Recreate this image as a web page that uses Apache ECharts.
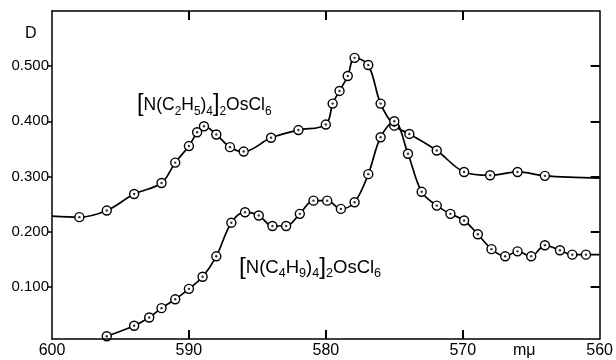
<!DOCTYPE html>
<html>
<head>
<meta charset="utf-8">
<script src="https://cdn.jsdelivr.net/npm/echarts@6/dist/echarts.min.js"></script>
<style>
  html, body {margin: 0; padding: 0; background: #fff;}
  #main {width: 616px; height: 360px;}
</style>
</head>
<body>
<div id="main"></div>
<script>
  // wavelength (mμ) and optical density D
  const upperX = [598, 596, 594, 592, 591, 590, 589.4, 588.9, 588, 587, 586, 584, 582, 580, 579.5, 579, 578.4, 577.9, 576.9, 576, 575, 573.9, 571.9, 569.9, 568, 566, 564];
  const upperY = [0.226, 0.238, 0.268, 0.288, 0.325, 0.355, 0.380, 0.391, 0.376, 0.353, 0.345, 0.370, 0.384, 0.394, 0.432, 0.455, 0.482, 0.515, 0.502, 0.432, 0.392, 0.377, 0.347, 0.308, 0.302, 0.308, 0.301];
  const upperStart = [600, 0.228];
  const upperEnd = [560, 0.297];

  const lowerX = [596, 594, 592.9, 592, 591, 590, 589, 588, 586.9, 585.9, 584.9, 583.9, 582.9, 581.9, 580.9, 579.9, 578.9, 577.9, 576.9, 576, 575, 574, 573, 571.9, 570.9, 569.9, 568.9, 567.9, 566.9, 566, 565, 564, 562.9, 562, 561];
  const lowerY = [0.010, 0.029, 0.044, 0.061, 0.077, 0.096, 0.118, 0.155, 0.216, 0.235, 0.229, 0.210, 0.210, 0.232, 0.256, 0.256, 0.241, 0.253, 0.304, 0.371, 0.400, 0.341, 0.272, 0.247, 0.232, 0.220, 0.195, 0.168, 0.155, 0.164, 0.155, 0.175, 0.166, 0.158, 0.158];
  const lowerEnd = [560, 0.158];

  const xTicks = [600, 590, 580, 570, 560];
  const xInnerTicks = [590, 580, 570];
  const yTicks = [0.1, 0.2, 0.3, 0.4, 0.5];

  const ink = '#000';
  const font = 'Liberation Sans';
  const yMin = 0.005, yMax = 0.6;

  const pts = (xs, ys) => xs.map((x, i) => [x, ys[i]]);
  const bare = p => ({value: p, symbol: 'none'});

  const upperPts = pts(upperX, upperY);
  const lowerPts = pts(lowerX, lowerY);

  const lineSeries = data => ({
    type: 'line',
    data: data,
    smooth: 0.35,
    symbol: 'circle',
    symbolSize: 9,
    showAllSymbol: true,
    lineStyle: {color: ink, width: 1.7},
    itemStyle: {color: '#fff', borderColor: ink, borderWidth: 1.4},
    z: 2
  });
  const dotSeries = data => ({
    type: 'scatter',
    data: data,
    symbolSize: 2.4,
    itemStyle: {color: ink},
    z: 3
  });

  const richOf = size => ({
    b: {fontSize: size + 6, lineHeight: size + 7, fontFamily: font, color: ink},
    t: {fontSize: size, lineHeight: size + 7, fontFamily: font, color: ink},
    s: {fontSize: size * 0.68, lineHeight: size * 0.68, fontFamily: font, color: ink, verticalAlign: 'bottom'}
  });

  const frameAxis = {
    axisLine: {show: true, lineStyle: {color: ink, width: 1.5}},
    splitLine: {show: false}
  };
  const innerTick = vals => ({show: true, inside: true, length: 9, customValues: vals, lineStyle: {color: ink, width: 2}});

  const chart = echarts.init(document.getElementById('main'));
  chart.setOption({
    animation: false,
    backgroundColor: '#fff',
    grid: {left: 52, right: 14, top: 11, bottom: 21},
    xAxis: [Object.assign({
      type: 'value', min: 560, max: 600, interval: 10, inverse: true, z: 10,
      axisTick: innerTick(xInnerTicks),
      axisLabel: {color: ink, fontSize: 16, fontFamily: font, margin: 4, customValues: xTicks}
    }, frameAxis), Object.assign({
      type: 'value', min: 560, max: 600, interval: 10, inverse: true, position: 'top', z: 10,
      axisTick: innerTick(xInnerTicks),
      axisLabel: {show: false}
    }, frameAxis)],
    yAxis: [Object.assign({
      type: 'value', min: yMin, max: yMax, z: 10,
      axisTick: {show: true, inside: false, length: 4, customValues: yTicks, lineStyle: {color: ink, width: 1.5}},
      axisLabel: {color: ink, fontSize: 15, fontFamily: font, margin: 3,
        customValues: yTicks, formatter: v => v.toFixed(3)}
    }, frameAxis), Object.assign({
      type: 'value', min: yMin, max: yMax, position: 'right', z: 10,
      axisTick: innerTick(yTicks),
      axisLabel: {show: false}
    }, frameAxis)],
    series: [
      lineSeries([bare(upperStart), ...upperPts, bare(upperEnd)]),
      dotSeries(upperPts),
      lineSeries([...lowerPts, bare(lowerEnd)]),
      dotSeries(lowerPts)
    ],
    graphic: [
      {type: 'text', left: 25, top: 26, style: {text: 'D', fontSize: 16, fontFamily: font, fill: ink}},
      {type: 'text', left: 513, top: 343, style: {text: 'mμ', fontSize: 16, fontFamily: font, fill: ink}},
      {type: 'text', left: 137, top: 93, style: {
        text: '{b|[}{t|N(C}{s|2}{t|H}{s|5}{t|)}{s|4}{b|]}{s|2}{t|OsCl}{s|6}', rich: richOf(17.5)}},
      {type: 'text', left: 239, top: 255, style: {
        text: '{b|[}{t|N(C}{s|4}{t|H}{s|9}{t|)}{s|4}{b|]}{s|2}{t|OsCl}{s|6}', rich: richOf(18.5)}}
    ]
  });
</script>
</body>
</html>
